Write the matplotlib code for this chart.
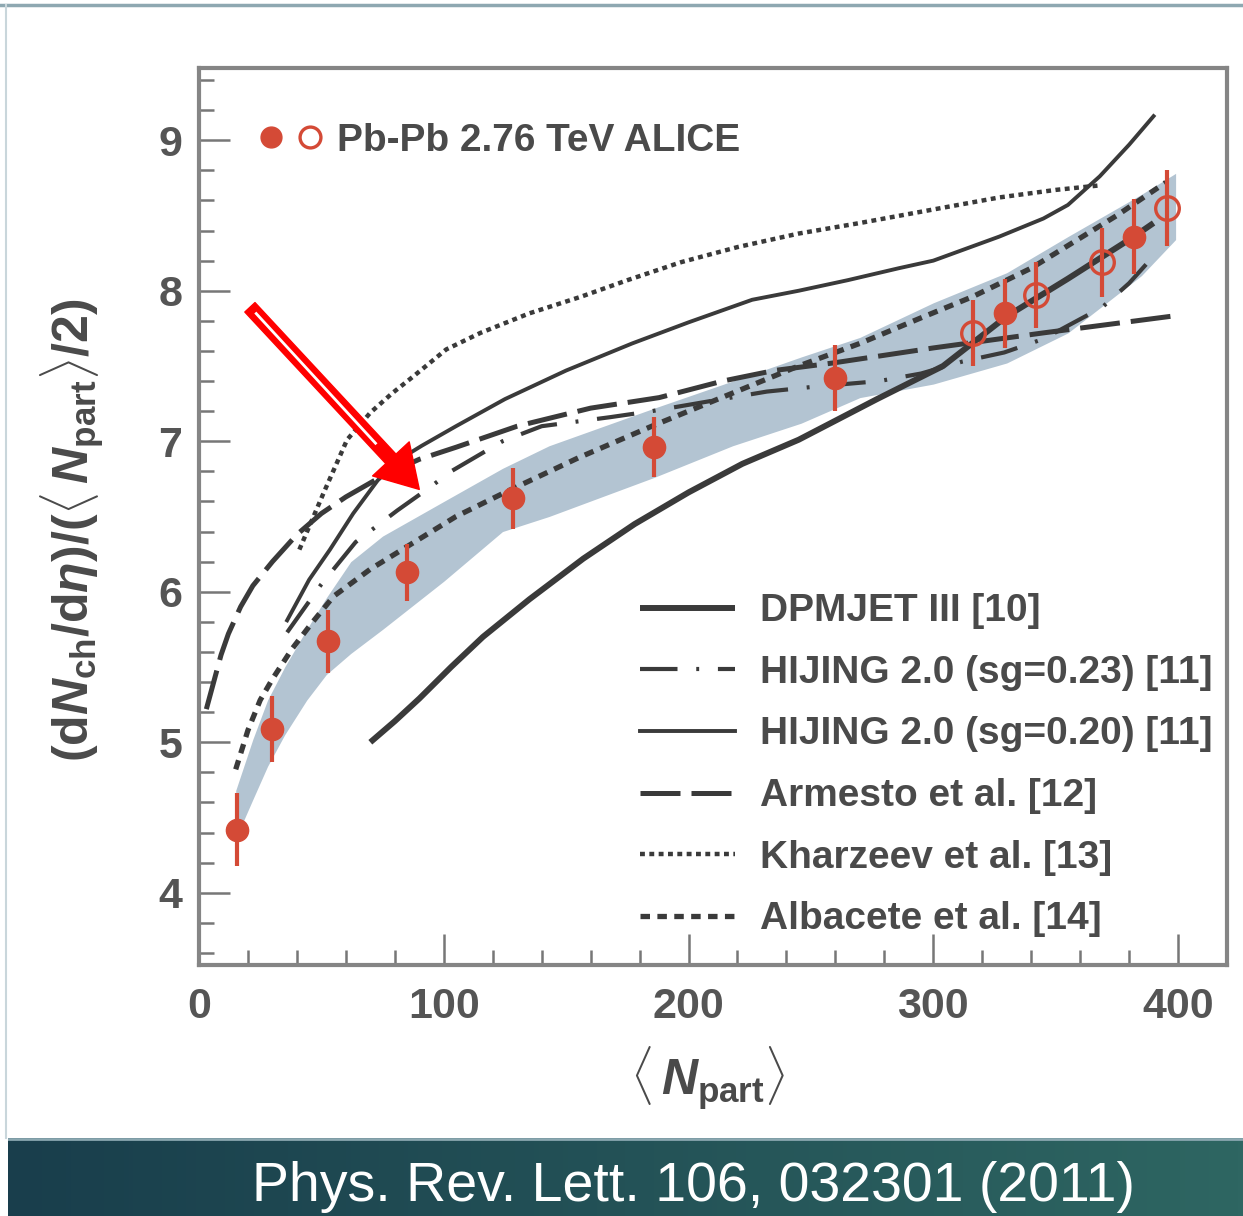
import numpy as np
import matplotlib
matplotlib.use('Agg')
import matplotlib.pyplot as plt
from matplotlib import font_manager
from matplotlib.lines import Line2D
from matplotlib.legend_handler import HandlerTuple

# ---------------- data ----------------
filled_x = [15.5, 29.8, 52.7, 85.0, 128.3, 186.0, 260.0, 329.4, 382.0]
filled_y = [4.42, 5.09, 5.67, 6.13, 6.62, 6.96, 7.42, 7.85, 8.36]
filled_err = [0.24, 0.22, 0.21, 0.19, 0.20, 0.20, 0.22, 0.23, 0.25]

open_x = [316.3, 342.0, 369.0, 395.6]
open_y = [7.72, 7.97, 8.19, 8.55]
open_err = [0.22, 0.22, 0.23, 0.25]

band_x = [15, 22, 28, 35, 44, 52, 62, 75, 100, 124, 143, 186, 218, 246, 270, 300, 330, 355, 385, 399]
band_lo = [4.36, 4.62, 4.84, 5.05, 5.28, 5.45, 5.59, 5.75, 6.07, 6.40, 6.50, 6.76, 6.97, 7.12, 7.29, 7.38, 7.52, 7.72, 8.10, 8.34]
band_hi = [4.68, 5.02, 5.28, 5.50, 5.75, 5.96, 6.20, 6.37, 6.60, 6.82, 6.97, 7.22, 7.40, 7.56, 7.69, 7.92, 8.12, 8.36, 8.64, 8.78]

dpm_x = [70, 80, 90, 103, 116, 135, 157, 178, 200, 222, 245, 277, 304, 330, 355, 382, 390]
dpm_y = [5.00, 5.14, 5.29, 5.50, 5.70, 5.95, 6.22, 6.45, 6.66, 6.85, 7.01, 7.28, 7.50, 7.83, 8.08, 8.36, 8.45]

hij23_x = [36, 50, 64, 81, 94, 103, 124, 140, 168, 185, 210, 232, 250, 278, 295, 312, 329, 345, 369, 380, 390]
hij23_y = [5.73, 6.05, 6.33, 6.54, 6.69, 6.80, 7.00, 7.10, 7.16, 7.20, 7.27, 7.33, 7.36, 7.40, 7.45, 7.53, 7.59, 7.68, 7.89, 8.05, 8.23]

hij20_x = [36, 45, 53.5, 63, 73, 82, 91, 105, 125, 150, 177, 200, 226, 245, 265, 286, 300, 327, 345, 355, 368, 380, 390]
hij20_y = [5.81, 6.08, 6.28, 6.52, 6.74, 6.88, 6.97, 7.10, 7.28, 7.47, 7.65, 7.79, 7.94, 8.00, 8.07, 8.15, 8.20, 8.36, 8.48, 8.57, 8.76, 8.97, 9.16]

arm_x = [3, 6, 9, 12, 17, 22, 30, 40, 50, 60, 75, 90, 105, 130, 160, 188, 214, 235, 259, 300, 345, 397]
arm_y = [5.22, 5.40, 5.58, 5.72, 5.90, 6.04, 6.20, 6.38, 6.52, 6.63, 6.77, 6.88, 6.96, 7.10, 7.22, 7.29, 7.40, 7.47, 7.52, 7.62, 7.72, 7.83]

kh_x = [41, 51, 60.5, 70, 79, 87.5, 101, 115, 135, 156, 175, 197, 220, 245, 270, 300, 327, 350, 368]
kh_y = [6.28, 6.66, 7.01, 7.19, 7.32, 7.43, 7.61, 7.72, 7.85, 7.96, 8.07, 8.19, 8.29, 8.38, 8.45, 8.54, 8.62, 8.67, 8.70]

alb_x = [15, 20, 25, 30, 38, 46, 55, 70, 85, 105, 125, 155, 185, 215, 245, 270, 295, 316, 340, 355, 375, 395]
alb_y = [4.82, 5.08, 5.28, 5.42, 5.62, 5.79, 5.97, 6.15, 6.30, 6.50, 6.66, 6.89, 7.10, 7.30, 7.50, 7.65, 7.82, 7.96, 8.15, 8.30, 8.50, 8.72]

labels = ['DPMJET III [10]', 'HIJING 2.0 (sg=0.23) [11]', 'HIJING 2.0 (sg=0.20) [11]',
          'Armesto et al. [12]', 'Kharzeev et al. [13]', 'Albacete et al. [14]']
data_label = 'Pb-Pb 2.76 TeV ALICE'
xticks = [0, 100, 200, 300, 400]
yticks = [4, 5, 6, 7, 8, 9]
citation = 'Phys. Rev. Lett. 106, 032301 (2011)'

# ---------------- fonts ----------------
def pick(fams):
    for f in fams:
        try:
            font_manager.findfont(font_manager.FontProperties(family=f), fallback_to_default=False)
            return f
        except Exception:
            pass
    return 'DejaVu Sans'

FONT = pick(['Liberation Sans Narrow', 'Liberation Sans', 'DejaVu Sans'])
plt.rcParams['font.family'] = [FONT, 'DejaVu Sans']
plt.rcParams['mathtext.fontset'] = 'custom'
plt.rcParams['mathtext.rm'] = FONT + ':bold'
plt.rcParams['mathtext.bf'] = FONT + ':bold'
plt.rcParams['mathtext.it'] = FONT + ':italic:bold'
plt.rcParams['mathtext.sf'] = FONT + ':bold'

TXT = '#4a4a4a'
LC = '#3a3a3a'
RED = '#d44a36'
BAND = '#b3c4d2'

fig = plt.figure(figsize=(12.43, 12.16), dpi=100)
fig.patch.set_facecolor('white')
ax = fig.add_axes([199 / 1243, 1 - 965 / 1216, 1028 / 1243, 897 / 1216])

ax.fill_between(band_x, band_lo, band_hi, color=BAND, lw=0, zorder=1)

l_dpm, = ax.plot(dpm_x, dpm_y, color=LC, lw=4.3, solid_capstyle='butt', zorder=3)
l_h23, = ax.plot(hij23_x, hij23_y, color=LC, lw=3.0, dashes=(9, 4.5, 0.7, 4.5), zorder=3)
l_h20, = ax.plot(hij20_x, hij20_y, color=LC, lw=2.8, zorder=3)
l_arm, = ax.plot(arm_x, arm_y, color=LC, lw=3.6, dashes=(8, 2.2), zorder=3)
l_kh, = ax.plot(kh_x, kh_y, color=LC, lw=3.2, dashes=(1.1, 1.0), zorder=3)
l_alb, = ax.plot(alb_x, alb_y, color=LC, lw=3.8, dashes=(1.8, 1.4), zorder=3)

ax.errorbar(filled_x, filled_y, yerr=filled_err, fmt='o', color=RED, ms=16,
            elinewidth=3, capsize=0, zorder=5)
ax.errorbar(open_x, open_y, yerr=open_err, fmt='o', color=RED, mfc='none', mec=RED,
            mew=2.4, ms=17, elinewidth=3, capsize=0, zorder=5)

# red annotation arrow
ax.annotate('', xy=(90.0, 6.68), xytext=(20.8, 7.89),
            arrowprops=dict(arrowstyle='simple,head_length=3.0,head_width=3.6,tail_width=1.0',
                            mutation_scale=10, color='#ff0000', shrinkA=0, shrinkB=0),
            zorder=6)
ax.plot([23.0, 72.5], [7.855, 6.98], color='white', lw=2.0, solid_capstyle='butt', zorder=7)

ax.set_xlim(0, 420)
ax.set_ylim(3.52, 9.48)
ax.set_xticks(xticks)
ax.set_yticks(yticks)
ax.set_xticks(np.arange(0, 421, 20), minor=True)
ax.set_yticks(np.arange(3.6, 9.5, 0.2), minor=True)
ax.tick_params(which='both', direction='in', color='#777777', width=1.8,
               top=False, right=False, labelsize=31, labelcolor='#555555')
ax.tick_params(which='major', length=22)
ax.tick_params(which='minor', length=11)
ax.tick_params(axis='x', pad=16)
ax.tick_params(axis='y', pad=12)
for lab in ax.get_xticklabels() + ax.get_yticklabels():
    lab.set_fontweight('bold')
for s in ax.spines.values():
    s.set_color('#858585')
    s.set_linewidth(3)

ax.set_ylabel(r'$(\mathrm{d}N_{\mathrm{ch}}/\mathrm{d}\eta)/(\langle\, N_{\mathrm{part}}\rangle/2)$',
              fontsize=36, color=TXT, va='center')
ax.yaxis.set_label_coords(-0.123, 0.485)
ax.set_xlabel(r'$\langle\, N_{\mathrm{part}}\rangle$', fontsize=36, color=TXT, va='center')
ax.xaxis.set_label_coords(0.495, -0.126)

# legends
h_f = Line2D([], [], ls='none', marker='o', color=RED, ms=15)
h_o = Line2D([], [], ls='none', marker='o', mfc='none', mec=RED, mew=2.4, ms=15)
leg1 = ax.legend([(h_f, h_o)], [data_label], handler_map={tuple: HandlerTuple(ndivide=None, pad=0.39)},
                 loc='center left', bbox_to_anchor=(0.058, 0.9186), frameon=False,
                 handlelength=1.62, handletextpad=0.39, borderpad=0, borderaxespad=0,
                 prop=dict(family=FONT, weight='bold', size=28))
for t in leg1.get_texts():
    t.set_color(TXT)
ax.add_artist(leg1)

leg2 = ax.legend([l_dpm, l_h23, l_h20, l_arm, l_kh, l_alb], labels,
                 loc='center left', bbox_to_anchor=(0.429, 0.2226), frameon=False,
                 handlelength=2.44, handletextpad=0.64, labelspacing=0.66,
                 borderpad=0, borderaxespad=0,
                 prop=dict(family=FONT, weight='bold', size=28))
for t in leg2.get_texts():
    t.set_color(TXT)

# frame decorations and citation banner
fig.add_artist(Line2D([0, 1], [1 - 5 / 1216] * 2, color='#8ea8b1', lw=2.5))
fig.add_artist(Line2D([6 / 1243] * 2, [78 / 1216, 1 - 5 / 1216], color='#c9d6db', lw=1.5))
bax = fig.add_axes([8 / 1243, 0, 1235 / 1243, 78 / 1216])
c0 = np.array([0x19, 0x3e, 0x4c]) / 255
c1 = np.array([0x2e, 0x66, 0x62]) / 255
t = np.linspace(0, 1, 256)
grad = (c0[None, :] * (1 - t[:, None]) + c1[None, :] * t[:, None])[None, :, :]
bax.imshow(grad, aspect='auto', extent=(0, 1, 0, 1))
bax.axhline(0.985, color='#8aa7b0', lw=2)
bax.set_xlim(0, 1)
bax.set_ylim(0, 1)
bax.axis('off')
fig.text(694 / 1243, 29 / 1216, citation, ha='center', va='center', color='white',
         fontsize=40, family=[FONT, 'DejaVu Sans'])

fig.savefig('out.png', dpi=100)
